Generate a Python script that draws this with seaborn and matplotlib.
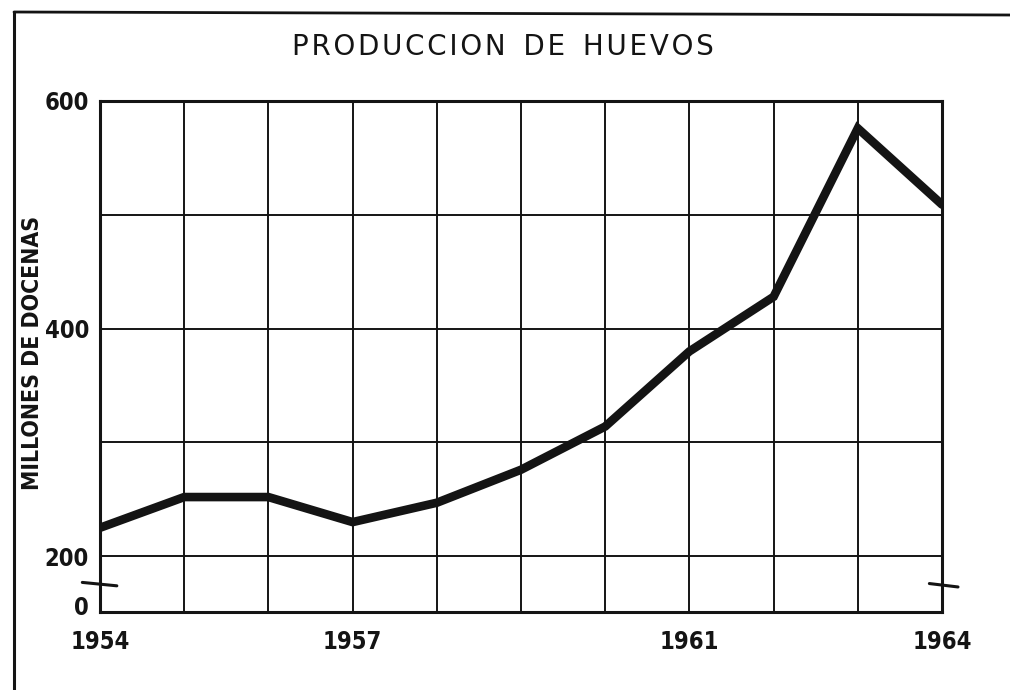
import matplotlib
matplotlib.use("Agg")
import matplotlib.pyplot as plt
import matplotlib.transforms as mtransforms
from matplotlib.lines import Line2D
import seaborn as sns

# egg production, millions of dozens
years = [1954, 1955, 1956, 1957, 1958, 1959, 1960, 1961, 1962, 1963, 1964]
production = [225, 252, 252, 230, 247, 276, 314, 380, 428, 576, 509]

label_years = [1954, 1957, 1961, 1964]
y_tick_values = [157, 200, 400, 600]
y_tick_labels = ["0", "200", "400", "600"]
grid_values = [200, 300, 400, 500]

sns.set_style("white")
plt.rcParams['font.family'] = ['DejaVu Sans']

fig = plt.figure(figsize=(10.1, 6.9), dpi=100)
ax = fig.add_axes([100 / 1010, 1 - 612 / 690, 842 / 1010, 511 / 690])

ink = "#141414"
sns.lineplot(x=years, y=production, ax=ax, color=ink, linewidth=6.2,
             solid_joinstyle="miter", zorder=3)

ax.set_xlim(years[0], years[-1])
ax.set_ylim(151, 600)

ax.xaxis.remove_overlapping_locs = False
ax.yaxis.remove_overlapping_locs = False
ax.set_xticks(label_years)
ax.set_xticklabels([str(y) for y in label_years])
ax.set_xticks(years, minor=True)
ax.set_yticks(y_tick_values)
ax.set_yticklabels(y_tick_labels)
ax.set_yticks(grid_values, minor=True)

ax.grid(False)
ax.grid(which="minor", color=ink, linewidth=1.4)
ax.tick_params(axis="both", which="both", length=0)
ax.tick_params(axis="x", pad=13, labelsize=17, labelcolor=ink)
ax.tick_params(axis="y", pad=8, labelsize=17, labelcolor=ink)
for lab in ax.get_xticklabels() + ax.get_yticklabels():
    lab.set_fontweight("bold")
    lab.set_fontstretch("condensed")

for side, spine in ax.spines.items():
    spine.set_visible(True)
    spine.set_color(ink)
    spine.set_linewidth(2.2)

ax.set_ylabel("MILLONES DE DOCENAS", fontsize=16.5, fontweight="bold",
              fontstretch="condensed", color=ink)
ax.yaxis.set_label_coords(-0.066, 0.506)

fig.text(0.498, 1 - 47 / 690, "\u200a".join("PRODUCCION") + "  "
         + "\u200a".join("DE") + "  " + "\u200a".join("HUEVOS"),
         ha="center", va="center", fontsize=20, color=ink)

# axis break marks
trans = mtransforms.blended_transform_factory(ax.transAxes, ax.transData)
ax.plot([-0.021, 0.020], [177, 174], transform=trans, color=ink,
        linewidth=2.2, clip_on=False, zorder=4)
ax.plot([0.985, 1.019], [176, 173], transform=trans, color=ink,
        linewidth=2.2, clip_on=False, zorder=4)

# outer frame of the scanned page
fig.add_artist(Line2D([14 / 1010, 14 / 1010], [1 - 12 / 690, 0],
                      color=ink, linewidth=2.2))
fig.add_artist(Line2D([14 / 1010, 1.0], [1 - 12 / 690, 1 - 15 / 690],
                      color=ink, linewidth=2.0))

fig.savefig("out.png", dpi=100)
